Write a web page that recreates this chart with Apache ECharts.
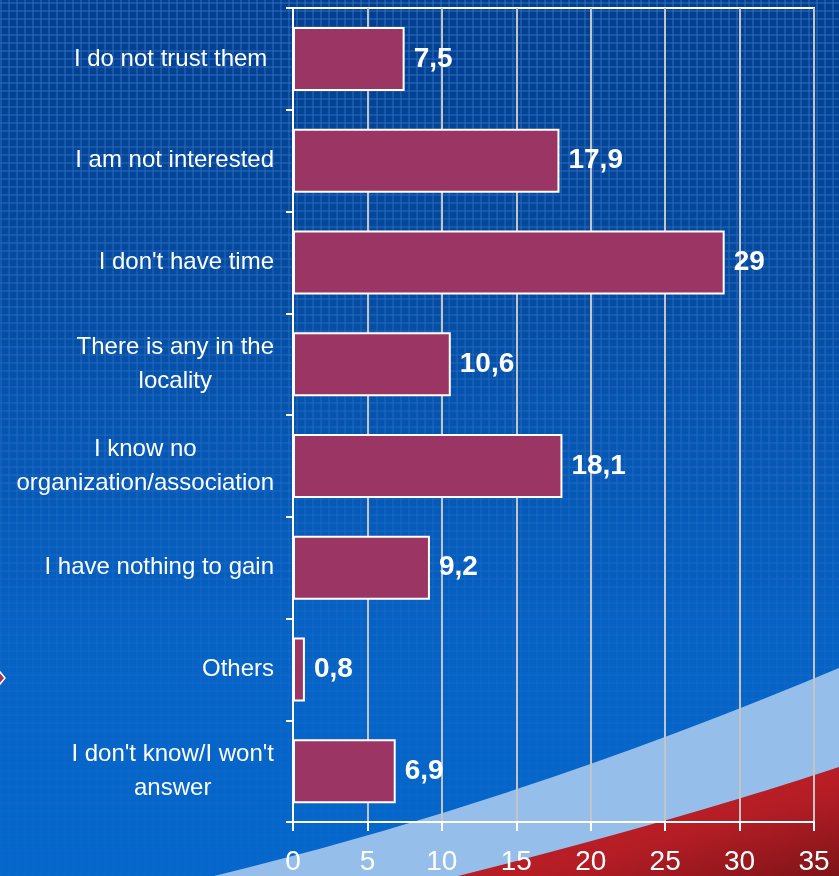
<!DOCTYPE html>
<html>
<head>
<meta charset="utf-8">
<script src="https://cdn.jsdelivr.net/npm/echarts@6/dist/echarts.min.js"></script>
<style>
  html, body { margin: 0; padding: 0; width: 839px; height: 876px; overflow: hidden; }
  #bg {
    position: absolute; left: 0; top: 0; width: 839px; height: 876px;
    background: linear-gradient(to bottom, #023f8e 0%, #044a9e 30%, #0559b6 55%, #0563c6 75%, #0567cc 100%);
  }
  #tex {
    position: absolute; left: 0; top: 0; width: 839px; height: 876px;
    background-image:
      repeating-linear-gradient(90deg, rgba(60,120,205,0.45) 0px, rgba(60,120,205,0.45) 2px, transparent 2px, transparent 8px),
      repeating-linear-gradient(0deg, rgba(60,120,205,0.45) 0px, rgba(60,120,205,0.45) 2px, transparent 2px, transparent 8px);
    -webkit-mask-image: linear-gradient(to bottom, rgba(0,0,0,0.9) 0%, rgba(0,0,0,0.6) 50%, rgba(0,0,0,0.2) 85%, rgba(0,0,0,0.1) 100%);
    mask-image: linear-gradient(to bottom, rgba(0,0,0,0.9) 0%, rgba(0,0,0,0.6) 50%, rgba(0,0,0,0.2) 85%, rgba(0,0,0,0.1) 100%);
  }
  #deco { position: absolute; left: 0; top: 0; }
  #chart { position: absolute; left: 0; top: 0; width: 839px; height: 876px; }
</style>
</head>
<body>
<div id="bg"></div>
<div id="tex"></div>
<svg id="deco" width="839" height="876" viewBox="0 0 839 876">
  <defs>
    <linearGradient id="redg" x1="0" y1="0" x2="1" y2="1">
      <stop offset="0" stop-color="#c4222b"/>
      <stop offset="0.6" stop-color="#b51d25"/>
      <stop offset="1" stop-color="#7e1418"/>
    </linearGradient>
  </defs>
  <path d="M 214 876 Q 520 802 839 668 L 839 876 Z" fill="#95bfea"/>
  <path d="M 458 876 Q 680 820 839 767 L 839 876 Z" fill="url(#redg)"/>
  <polygon points="-5,678 0,672 5,678 0,684" fill="#9b3563" stroke="#ffffff" stroke-width="1.5"/>
</svg>
<div id="chart"></div>
<script>
// ---- data ----
const categories = [
  "I do not trust them ",
  "I am not interested",
  "I don't have time",
  "There is any in the\nlocality",
  "I know no\norganization/association",
  "I have nothing to gain",
  "Others",
  "I don't know/I won't\nanswer"
];
const values = [7.5, 17.9, 29, 10.6, 18.1, 9.2, 0.8, 6.9];
const xTicks = { min: 0, max: 35, interval: 5 };

const chart = echarts.init(document.getElementById('chart'), null, { renderer: 'canvas' });
const FONT = '"Liberation Sans", Arial, sans-serif';

const option = {
  backgroundColor: 'transparent',
  animation: false,
  grid: {
    left: 293, right: 25, top: 8, bottom: 53,
    show: true, borderColor: '#ffffff', borderWidth: 2, backgroundColor: 'transparent'
  },
  xAxis: {
    type: 'value',
    min: xTicks.min, max: xTicks.max, interval: xTicks.interval,
    axisLine: { show: true, lineStyle: { color: '#ffffff', width: 2 } },
    axisTick: { show: true, length: 9, lineStyle: { color: '#ffffff', width: 2 } },
    splitLine: { show: true, lineStyle: { color: '#c4c4c4', width: 2 } },
    axisLabel: { color: '#ffffff', fontFamily: FONT, fontSize: 28, margin: 26 }
  },
  yAxis: {
    type: 'category',
    data: categories,
    inverse: true,
    axisLine: { show: true, lineStyle: { color: '#ffffff', width: 2 } },
    axisTick: { show: true, length: 7, lineStyle: { color: '#ffffff', width: 2 } },
    axisLabel: {
      color: '#ffffff', fontFamily: FONT, fontSize: 24, margin: 19, lineHeight: 34,
      formatter: function (v) {
        return v.split('\n').map(function (l) { return '{c|' + l + '}'; }).join('\n');
      },
      rich: { c: { align: 'center', color: '#ffffff', fontFamily: FONT, fontSize: 24, lineHeight: 34 } }
    }
  },
  series: [{
    type: 'bar',
    data: values,
    barWidth: 64,
    itemStyle: { color: '#9b3563', borderColor: '#ffffff', borderWidth: 2 },
    label: {
      show: true, position: 'right', distance: 9,
      color: '#ffffff', fontFamily: FONT, fontWeight: 'bold', fontSize: 28,
      formatter: function (p) { return String(p.value).replace('.', ','); }
    }
  }]
};
chart.setOption(option);
</script>
</body>
</html>
